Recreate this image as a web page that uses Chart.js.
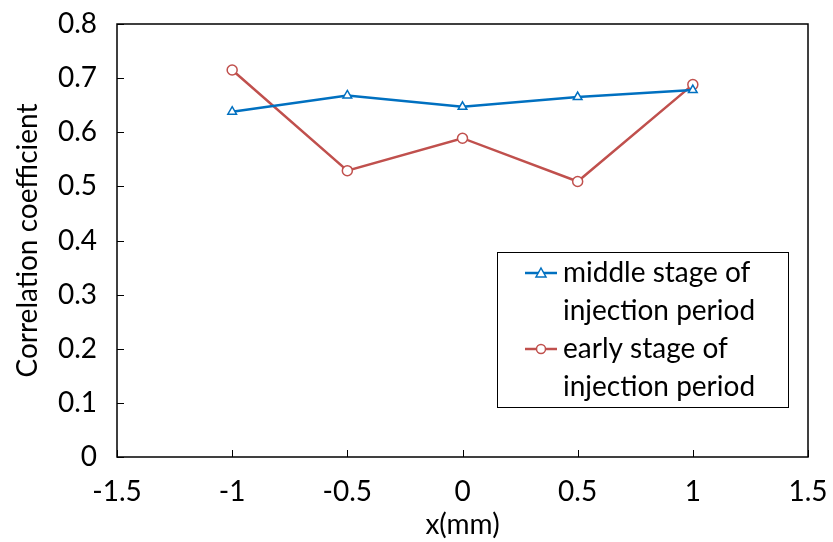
<!DOCTYPE html>
<html>
<head>
<meta charset="utf-8">
<script src="https://cdn.jsdelivr.net/npm/chart.js@4.4.1/dist/chart.umd.min.js"></script>
<style>
  body { margin: 0; background: #fff; }
</style>
</head>
<body>
<canvas id="corrChart" width="833" height="542"></canvas>
<script>
    // Data
    const xPositions = [-1, -0.5, 0, 0.5, 1];
    const middleStage = [0.638, 0.668, 0.647, 0.665, 0.678];
    const earlyStage = [0.715, 0.529, 0.589, 0.509, 0.688];
    const middleLabel = ['middle stage of', 'injection period'];
    const earlyLabel = ['early stage of', 'injection period'];

    const FONT = 'Lato, "Open Sans", sans-serif';
    const FSIZE = 28;
    const BLUE = '#0070C0';
    const RED = '#C0504D';

    function toPoints(values) {
        return xPositions.map((x, i) => ({ x: x, y: values[i] }));
    }

    // Frame + inward tick marks
    const frameTicks = {
        id: 'frameTicks',
        afterDraw(chart) {
            const ctx = chart.ctx;
            const a = chart.chartArea;
            ctx.save();
            ctx.strokeStyle = '#000';
            ctx.lineWidth = 1.5;
            ctx.strokeRect(a.left, a.top, a.right - a.left, a.bottom - a.top);
            ctx.lineWidth = 1;
            ctx.beginPath();
            chart.scales.x.ticks.forEach(t => {
                const px = Math.round(chart.scales.x.getPixelForValue(t.value)) + 0.5;
                ctx.moveTo(px, a.bottom);
                ctx.lineTo(px, a.bottom - 7);
            });
            chart.scales.y.ticks.forEach(t => {
                const py = Math.round(chart.scales.y.getPixelForValue(t.value)) + 0.5;
                ctx.moveTo(a.left, py);
                ctx.lineTo(a.left + 7, py);
            });
            ctx.stroke();
            ctx.restore();
        }
    };

    // Boxed legend with two-line labels, inside the plot area
    const boxLegend = {
        id: 'boxLegend',
        afterDraw(chart) {
            const ctx = chart.ctx;
            const a = chart.chartArea;
            const right = a.right - 20;
            const bottom = a.bottom - 50;
            const w = 291, h = 155;
            const left = right - w, top = bottom - h;
            ctx.save();
            ctx.fillStyle = '#fff';
            ctx.fillRect(left, top, w, h);
            ctx.strokeStyle = '#000';
            ctx.lineWidth = 1;
            ctx.strokeRect(left + 0.5, top + 0.5, w, h);

            const rows = [
                { lines: middleLabel, color: BLUE, style: 'triangle' },
                { lines: earlyLabel, color: RED, style: 'circle' }
            ];
            ctx.font = FSIZE + 'px ' + FONT;
            ctx.textBaseline = 'middle';
            let y = top + 21;
            rows.forEach(r => {
                const mx = left + 44;
                ctx.strokeStyle = r.color;
                ctx.lineWidth = 2.5;
                ctx.beginPath();
                ctx.moveTo(left + 28, y);
                ctx.lineTo(left + 60, y);
                ctx.stroke();
                ctx.fillStyle = '#fff';
                ctx.lineWidth = 1.5;
                ctx.beginPath();
                if (r.style === 'circle') {
                    ctx.arc(mx, y, 4.5, 0, Math.PI * 2);
                } else {
                    ctx.moveTo(mx, y - 5);
                    ctx.lineTo(mx + 5, y + 4);
                    ctx.lineTo(mx - 5, y + 4);
                    ctx.closePath();
                }
                ctx.fill();
                ctx.stroke();
                ctx.fillStyle = '#000';
                r.lines.forEach((txt, i) => {
                    ctx.fillText(txt, left + 66, y + i * 38);
                });
                y += 76;
            });
            ctx.restore();
        }
    };

    // invisible tick gap, so labels sit away from the axis
    const hiddenGap = len => ({
        display: true,
        drawOnChartArea: false,
        drawTicks: true,
        tickLength: len,
        tickColor: 'rgba(0,0,0,0)'
    });

    const config = {
        type: 'line',
        data: {
            datasets: [{
                label: middleLabel.join(' '),
                data: toPoints(middleStage),
                borderColor: BLUE,
                borderWidth: 2.5,
                pointStyle: 'triangle',
                pointRadius: 5,
                pointBorderWidth: 1.5,
                pointBackgroundColor: '#fff',
                pointBorderColor: BLUE
            }, {
                label: earlyLabel.join(' '),
                data: toPoints(earlyStage),
                borderColor: RED,
                borderWidth: 2.5,
                pointStyle: 'circle',
                pointRadius: 5,
                pointBorderWidth: 1.5,
                pointBackgroundColor: '#fff',
                pointBorderColor: RED
            }]
        },
        options: {
            responsive: false,
            animation: false,
            layout: { padding: { top: 24, right: 25, left: 0, bottom: 0 } },
            plugins: {
                legend: { display: false },
                tooltip: { enabled: false }
            },
            scales: {
                x: {
                    type: 'linear',
                    min: -1.5,
                    max: 1.5,
                    grid: hiddenGap(18),
                    border: { display: false },
                    ticks: {
                        stepSize: 0.5,
                        color: '#000',
                        padding: 0,
                        font: { family: FONT, size: FSIZE },
                        callback: v => String(v)
                    },
                    title: {
                        display: true,
                        text: 'x(mm)',
                        color: '#000',
                        font: { family: FONT, size: FSIZE },
                        padding: { top: 0, bottom: 0 }
                    },
                    afterFit(scale) { scale.height = 85; }
                },
                y: {
                    min: 0,
                    max: 0.8,
                    grid: hiddenGap(20),
                    border: { display: false },
                    ticks: {
                        stepSize: 0.1,
                        color: '#000',
                        padding: 0,
                        font: { family: FONT, size: FSIZE },
                        callback: v => String(Math.round(v * 10) / 10)
                    },
                    title: {
                        display: true,
                        text: 'Correlation coefficient',
                        color: '#000',
                        font: { family: FONT, size: FSIZE },
                        padding: { top: 11, bottom: 0 }
                    },
                    afterFit(scale) { scale.width = 117; }
                }
            }
        },
        plugins: [frameTicks, boxLegend]
    };

    const corrChart = new Chart(document.getElementById('corrChart'), config);
</script>
</body>
</html>
